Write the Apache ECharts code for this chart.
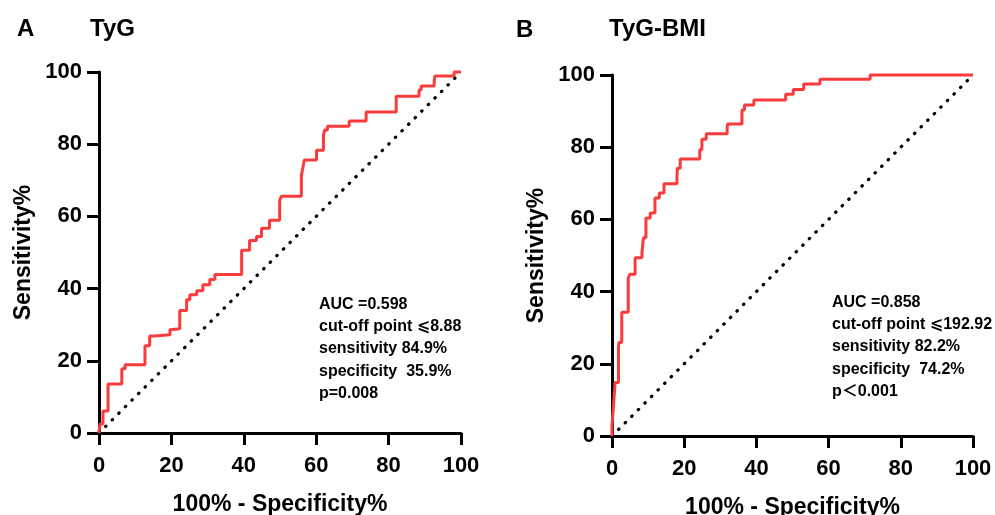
<!DOCTYPE html>
<html>
<head>
<meta charset="utf-8">
<script src="https://cdn.jsdelivr.net/npm/echarts@6/dist/echarts.min.js"></script>
<style>
  html, body { margin: 0; padding: 0; background: #fff; }
  #chart { width: 995px; height: 515px; }
</style>
</head>
<body>
<div id="chart"></div>
<script>
// ROC curve A (TyG): 100% - specificity vs sensitivity
const fprA = [0, 0.3, 1.1, 2.5, 3.9, 6.3, 7.2, 8.5, 12.7, 14.0, 15.4, 19.6, 20.1, 22.3, 24.2, 25.1, 27.0, 28.7, 30.6, 32.0, 33.9, 39.4, 39.7, 41.6, 43.5, 44.9, 47.1, 47.1, 49.9, 50.4, 51.2, 55.9, 56.2, 56.7, 57.6, 60.1, 60.1, 62.0, 62.3, 63.1, 64.2, 69.1, 69.1, 73.8, 73.8, 82.1, 82.1, 84.8, 88.4, 89.0, 89.3, 92.6, 92.8, 93.9, 98.1, 98.6, 100]
const tprA = [0, 0.6, 2.5, 6.1, 13.6, 13.6, 17.8, 18.9, 18.9, 24.2, 26.9, 27.2, 28.6, 28.9, 33.9, 36.9, 38.3, 39.4, 41.1, 42.5, 43.9, 43.9, 50.6, 50.6, 53.3, 54.4, 56.7, 58.9, 58.9, 64.4, 65.6, 65.6, 71.4, 72.8, 75.6, 75.6, 78.3, 78.3, 82.5, 83.9, 85.0, 85.0, 86.4, 86.4, 88.9, 88.9, 91.9, 93.3, 93.3, 95.0, 96.1, 96.1, 97.5, 98.9, 98.9, 100, 100]

// ROC curve B (TyG-BMI)
const fprB = [0, 0.4, 0.8, 0.8, 1.8, 1.9, 2.7, 3.1, 4.5, 5.0, 6.4, 7.0, 8.3, 8.7, 9.4, 10.6, 11.9, 13.1, 14.4, 15.6, 18.0, 18.1, 18.9, 21.2, 24.3, 24.9, 26.1, 27.4, 31.9, 32.0, 33.3, 36.0, 36.7, 39.3, 40.4, 48.1, 48.1, 50.2, 50.2, 53.1, 53.1, 57.6, 57.6, 71.5, 71.5, 100]
const tprB = [0, 2.8, 8.4, 13.9, 14.8, 24.5, 25.9, 34.3, 34.3, 43.8, 44.8, 49.4, 49.4, 50.7, 54.9, 60.4, 61.8, 65.9, 67.3, 69.9, 69.9, 71.9, 74.2, 76.7, 76.7, 79.3, 82.2, 83.7, 83.7, 85.1, 86.4, 86.4, 90.3, 91.7, 93.1, 93.1, 94.7, 94.7, 96.0, 96.0, 97.5, 97.5, 98.8, 98.8, 100, 100]

// reference line
const diagX = [0, 100]
const diagY = [0, 100]

const tickValues = [0, 20, 40, 60, 80, 100]

const notesA = ['AUC =0.598', 'cut-off point ⩽8.88', 'sensitivity 84.9%', 'specificity  35.9%', 'p=0.008']
const notesB = ['AUC =0.858', 'cut-off point ⩽192.92', 'sensitivity 82.2%', 'specificity  74.2%', 'p＜0.001']

const FONT = '"Liberation Sans", Arial, "DejaVu Sans", "Noto Sans CJK SC", sans-serif'
const RED = '#fa3b3b'

function zip(xs, ys) {
  return xs.map((x, i) => [x, ys[i]])
}

function makeAxis(gridIndex, name, isY) {
  return {
    type: 'value',
    gridIndex: gridIndex,
    min: 0,
    max: 100,
    interval: 20,
    name: name,
    nameLocation: 'middle',
    nameGap: isY ? 64 : 60,
    nameTextStyle: {
      color: '#000',
      fontSize: 23,
      fontWeight: 'bold',
      fontFamily: FONT
    },
    axisLine: { show: true, lineStyle: { color: '#000', width: 3 } },
    axisTick: { show: true, inside: false, length: 12, lineStyle: { color: '#000', width: 3 } },
    splitLine: { show: false },
    axisLabel: {
      color: '#000',
      fontSize: 22,
      fontWeight: 'bold',
      fontFamily: FONT,
      margin: isY ? 17 : 22,
      formatter: function(v) {
        return tickValues.indexOf(v) >= 0 ? String(v) : ''
      }
    }
  }
}

function rocSeries(idx, data) {
  return {
    type: 'line',
    xAxisIndex: idx,
    yAxisIndex: idx,
    data: data,
    step: 'start',
    symbol: 'none',
    clip: false,
    z: 3,
    lineStyle: { color: RED, width: 3 }
  }
}

function diagSeries(idx) {
  return {
    type: 'line',
    xAxisIndex: idx,
    yAxisIndex: idx,
    data: zip(diagX, diagY),
    symbol: 'none',
    clip: false,
    z: 2,
    lineStyle: { color: '#000', width: 3.2, type: [0.5, 8.8], cap: 'round' }
  }
}

function textEl(x, y, text, size, va, lineHeight) {
  return {
    type: 'text',
    x: x,
    y: y,
    style: {
      text: text,
      fill: '#000',
      font: 'bold ' + size + 'px ' + FONT,
      lineHeight: lineHeight || size,
      verticalAlign: va
    }
  }
}

const chart = echarts.init(document.getElementById('chart'))
const option = {
  animation: false,
  backgroundColor: '#fff',
  grid: [
    { left: 99, top: 72, width: 362, height: 361, containLabel: false, outerBoundsMode: 'none' },
    { left: 612, top: 75, width: 361, height: 361, containLabel: false, outerBoundsMode: 'none' }
  ],
  xAxis: [
    makeAxis(0, '100% - Specificity%', false),
    makeAxis(1, '100% - Specificity%', false)
  ],
  yAxis: [
    makeAxis(0, 'Sensitivity%', true),
    makeAxis(1, 'Sensitivity%', true)
  ],
  series: [
    diagSeries(0),
    rocSeries(0, zip(fprA, tprA)),
    diagSeries(1),
    rocSeries(1, zip(fprB, tprB))
  ],
  graphic: [
    textEl(17, 29, 'A', 24, 'middle'),
    textEl(90, 29, 'TyG', 24, 'middle'),
    textEl(516, 30, 'B', 24, 'middle'),
    textEl(609, 29, 'TyG-BMI', 24, 'middle'),
    textEl(319, 293, notesA.join('\n'), 16, 'top', 22.4),
    textEl(832, 291, notesB.join('\n'), 16, 'top', 22.4)
  ]
}
chart.setOption(option)
</script>
</body>
</html>
